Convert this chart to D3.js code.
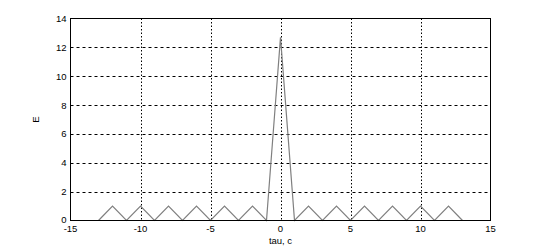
<!DOCTYPE html>
<html>
<head>
<meta charset="utf-8">
<script src="https://d3js.org/d3.v7.min.js"></script>
<style>
  body { margin: 0; background: #fff; }
  text { font-family: "Liberation Sans", Arial, sans-serif; font-size: 9.5px; fill: #000; }
</style>
</head>
<body>
<svg id="chart" width="540" height="247"></svg>
<script>
  // tau values and E values
  const tau = [-13, -12, -11, -10, -9, -8, -7, -6, -5, -4, -3, -2, -1, 0,
               1, 2, 3, 4, 5, 6, 7, 8, 9, 10, 11, 12, 13];
  const energy = [0, 1, 0, 1, 0, 1, 0, 1, 0, 1, 0, 1, 0, 12.7,
                  0, 1, 0, 1, 0, 1, 0, 1, 0, 1, 0, 1, 0];
  const xTicks = [-15, -10, -5, 0, 5, 10, 15];
  const yTicks = [0, 2, 4, 6, 8, 10, 12, 14];

  const data = tau.map((t, i) => ({ t: t, e: energy[i] }));

  const svg = d3.select('#chart');
  const pLeft = 70.5, pRight = 490.5, pTop = 18.5, pBottom = 220.5;

  const x = d3.scaleLinear().domain([-15, 15]).range([pLeft, pRight]);
  const y = d3.scaleLinear().domain([0, 14]).range([pBottom, pTop]);

  // grid
  svg.append('g').selectAll('line')
    .data(xTicks.slice(1, -1))
    .join('line')
    .attr('x1', d => Math.round(x(d)) + 0.5).attr('x2', d => Math.round(x(d)) + 0.5)
    .attr('y1', pTop).attr('y2', pBottom)
    .attr('stroke', '#000').attr('stroke-dasharray', '1.5,2');

  svg.append('g').selectAll('line')
    .data(yTicks.slice(1, -1))
    .join('line')
    .attr('y1', d => Math.round(y(d)) + 0.5).attr('y2', d => Math.round(y(d)) + 0.5)
    .attr('x1', pLeft).attr('x2', pRight)
    .attr('stroke', '#000').attr('stroke-dasharray', '3,3');

  // data line
  const line = d3.line().x(d => x(d.t)).y(d => y(d.e));
  svg.append('path')
    .datum(data)
    .attr('fill', 'none')
    .attr('stroke', '#7f7f7f')
    .attr('stroke-width', 1.2)
    .attr('d', line);

  // frame
  svg.append('rect')
    .attr('x', pLeft).attr('y', pTop)
    .attr('width', pRight - pLeft).attr('height', pBottom - pTop)
    .attr('fill', 'none').attr('stroke', '#000').attr('stroke-width', 1);

  // tick labels
  svg.append('g').selectAll('text')
    .data(xTicks)
    .join('text')
    .attr('x', d => x(d)).attr('y', pBottom + 11.5)
    .attr('text-anchor', 'middle')
    .text(d => d);

  svg.append('g').selectAll('text')
    .data(yTicks)
    .join('text')
    .attr('x', pLeft - 4).attr('y', d => y(d) + (d === 0 ? 2 : 3.5))
    .attr('text-anchor', 'end')
    .text(d => d);

  // axis labels
  svg.append('text')
    .attr('x', x(0)).attr('y', 243.5)
    .attr('text-anchor', 'middle')
    .text('tau, c');

  svg.append('text')
    .attr('transform', 'translate(39,' + ((pTop + pBottom) / 2) + ') rotate(-90)')
    .attr('text-anchor', 'middle')
    .text('E');
</script>
</body>
</html>
